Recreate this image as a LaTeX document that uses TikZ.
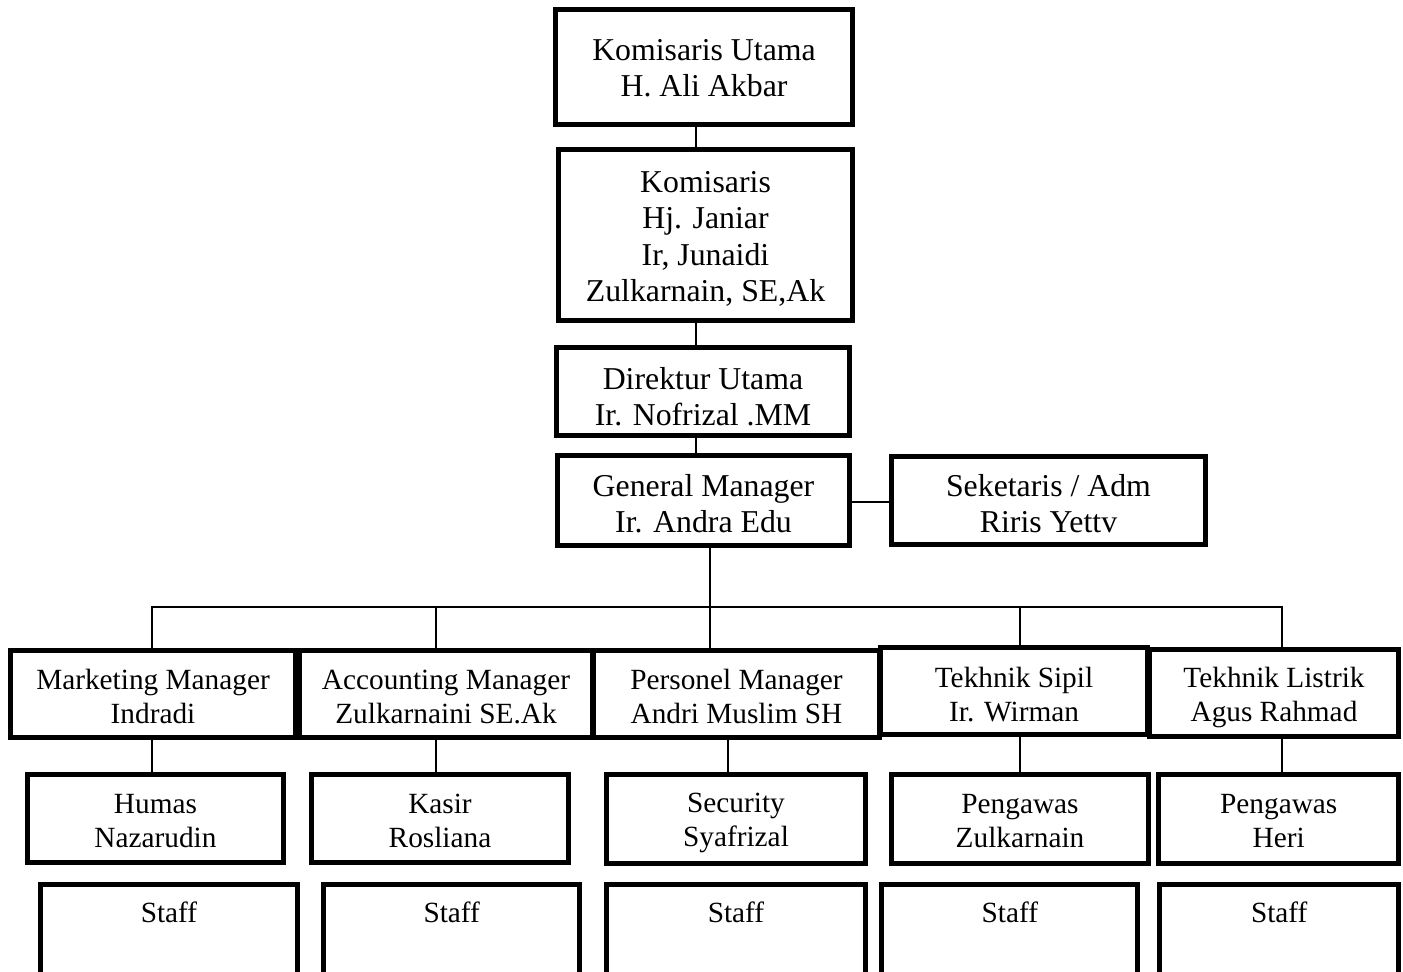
\documentclass[tikz,border=0pt]{standalone}
\usepackage{fontspec}
\setmainfont{Liberation Serif}
\begin{document}
\begin{tikzpicture}[x=0.5pt,y=-0.5pt,
  big/.style={font=\fontsize{15.9}{18.2}\selectfont, align=center, inner sep=0pt},
  small/.style={font=\fontsize{14.65}{17}\selectfont, align=center, inner sep=0pt},
  box/.style={draw=black, line width=2.5pt, rectangle, inner sep=0pt, outer sep=0pt},
  conn/.style={draw=black, line width=1pt}]
\useasboundingbox (0,0) rectangle (1403,971);
\clip (0,0) rectangle (1403,971);
% boxes
\node[box,minimum width=148.25pt,minimum height=57.25pt] (KU) at (704,67) {};
\node[box,minimum width=146.75pt,minimum height=85.25pt] (K) at (705.5,235) {};
\node[box,minimum width=146.25pt,minimum height=43.75pt] (DU) at (703,391.5) {};
\node[box,minimum width=145.75pt,minimum height=44.75pt] (GM) at (703.5,500.5) {};
\node[box,minimum width=156.75pt,minimum height=43.75pt] (SA) at (1048.5,500.5) {};
\node[box,minimum width=142.25pt,minimum height=43.25pt] (MM) at (153,694) {};
\node[box,minimum width=146.25pt,minimum height=43.25pt] (AM) at (446,694) {};
\node[box,minimum width=142.75pt,minimum height=43.25pt] (PM) at (736.5,694) {};
\node[box,minimum width=133.25pt,minimum height=43.25pt] (TS) at (1014,691) {};
\node[box,minimum width=124.25pt,minimum height=43.25pt] (TL) at (1274,693) {};
\node[box,minimum width=127.75pt,minimum height=43.75pt] (HU) at (155.5,818.5) {};
\node[box,minimum width=128.25pt,minimum height=43.75pt] (KA) at (440,818.5) {};
\node[box,minimum width=129.25pt,minimum height=44.25pt] (SE) at (736,819) {};
\node[box,minimum width=128.25pt,minimum height=44.25pt] (PZ) at (1020,819) {};
\node[box,minimum width=120pt,minimum height=44.25pt] (PH) at (1278.75,819) {};
\node[box,minimum width=128.25pt,minimum height=62.5pt] (S1) at (169,947.4) {};
\node[box,minimum width=128pt,minimum height=62.5pt] (S2) at (451.75,947.4) {};
\node[box,minimum width=129.25pt,minimum height=62.5pt] (S3) at (736,947.4) {};
\node[box,minimum width=128pt,minimum height=62.5pt] (S4) at (1009.8,947.4) {};
\node[box,minimum width=119.5pt,minimum height=62.5pt] (S5) at (1279.25,947.4) {};
% texts
\node[big] (KUt) at (704,68) {Komisaris Utama\\H. Ali Akbar};
\node[big] (Kt) at (705.5,239) {Komisaris\\Hj. Janiar\\Ir, Junaidi\\Zulkarnain, SE,Ak};
\node[big] (DUt) at (703,396.5) {Direktur Utama\\Ir. Nofrizal .MM};
\node[big] (GMt) at (703.5,503.5) {General Manager\\Ir. Andra Edu};
\node[big] (SAt) at (1048.5,503.5) {Seketaris / Adm\\Riris Yettv};
\node[small] (MMt) at (153,696) {Marketing Manager\\Indradi};
\node[small] (AMt) at (446,697) {Accounting Manager\\Zulkarnaini SE.Ak};
\node[small] (PMt) at (736.5,696) {Personel Manager\\Andri Muslim SH};
\node[small] (TSt) at (1014,695) {Tekhnik Sipil\\Ir. Wirman};
\node[small] (TLt) at (1274,697) {Tekhnik Listrik\\Agus Rahmad};
\node[small] (HUt) at (155.5,821.5) {Humas\\Nazarudin};
\node[small] (KAt) at (440,820.5) {Kasir\\Rosliana};
\node[small] (SEt) at (736,823) {Security\\Syafrizal};
\node[small] (PZt) at (1020,821) {Pengawas\\Zulkarnain};
\node[small] (PHt) at (1278.75,821) {Pengawas\\Heri};
\node[small] (S1t) at (169,912) {Staff};
\node[small] (S2t) at (451.75,912) {Staff};
\node[small] (S3t) at (736,912) {Staff};
\node[small] (S4t) at (1009.8,912) {Staff};
\node[small] (S5t) at (1279.25,912) {Staff};
% connector guides
\coordinate (sp) at (696,0);
\coordinate (gs) at (710,0);
\coordinate (bar) at (0,607);
\coordinate (c1) at (152,0);
\coordinate (c2) at (436,0);
\coordinate (c3) at (728,0);
\coordinate (c4) at (1020,0);
\coordinate (c5) at (1282,0);
\draw[conn] (sp |- KU.south) -- (sp |- K.north);
\draw[conn] (sp |- K.south) -- (sp |- DU.north);
\draw[conn] (sp |- DU.south) -- (sp |- GM.north);
\draw[conn] (GM.east |- 0,502) -- (SA.west |- 0,502);
\draw[conn] (gs |- GM.south) -- (gs |- PM.north);
\draw[conn] (c1 |- MM.north) -- (c1 |- bar) -- (c5 |- bar) -- (c5 |- TL.north);
\draw[conn] (c2 |- bar) -- (c2 |- AM.north);
\draw[conn] (c4 |- bar) -- (c4 |- TS.north);
\draw[conn] (c1 |- MM.south) -- (c1 |- HU.north);
\draw[conn] (c2 |- AM.south) -- (c2 |- KA.north);
\draw[conn] (c3 |- PM.south) -- (c3 |- SE.north);
\draw[conn] (c4 |- TS.south) -- (c4 |- PZ.north);
\draw[conn] (c5 |- TL.south) -- (c5 |- PH.north);
\end{tikzpicture}
\end{document}
